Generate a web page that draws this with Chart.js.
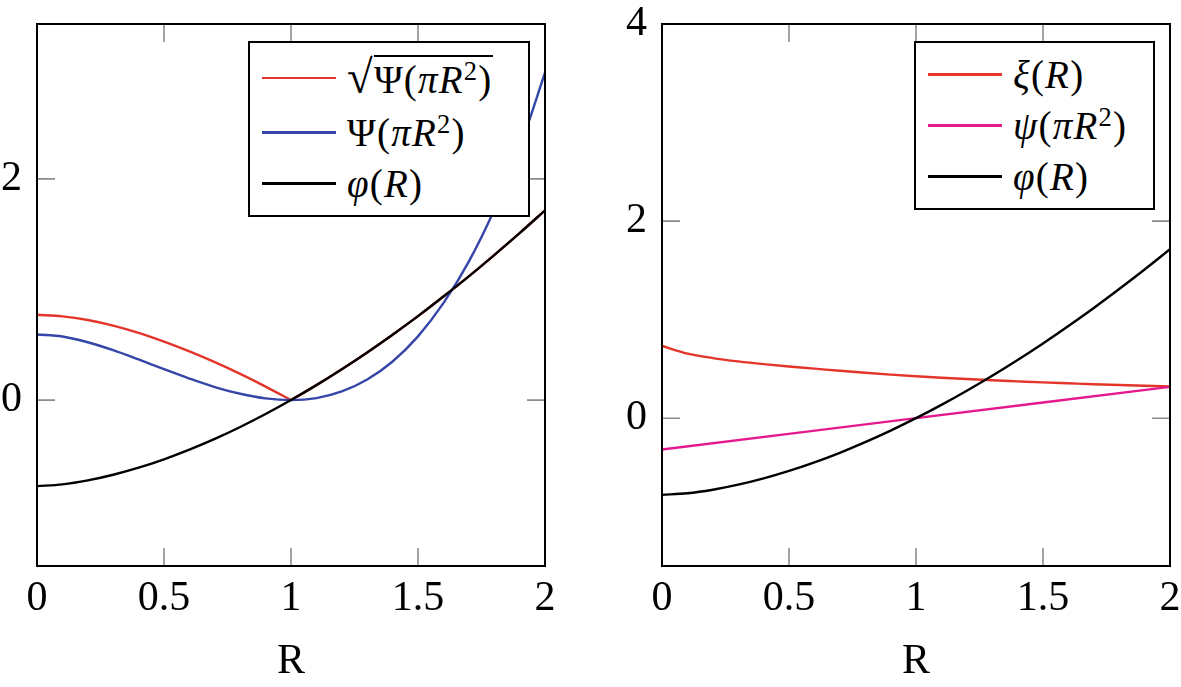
<!DOCTYPE html>
<html>
<head>
<meta charset="utf-8">
<title>R</title>
<script src="https://cdn.jsdelivr.net/npm/chart.js@4.4.1/dist/chart.umd.min.js"></script>
<style>
  body { margin: 0; background: #fff; }
  #page { position: relative; width: 1181px; height: 687px; overflow: hidden; }
  .panel { position: absolute; top: 0; height: 687px; }
  .legend { position: absolute; box-sizing: border-box; border: 2px solid #000; background: #fff;
            font-family: "Liberation Serif", serif; font-size: 39px; letter-spacing: 1.2px; color: #000; }
  .legend .row { position: absolute; left: 0; right: 0; height: 52px; display: flex; align-items: center; white-space: nowrap; }
  .legend .swatch { display: inline-block; width: 74px; height: 2.5px; margin-left: 12px; margin-right: 11px; }
  .legend sup { font-size: 0.68em; vertical-align: 0.5em; line-height: 0; }
  .legend .rad { font-size: 1.2em; line-height: 1; }
  .legend .radicand { border-top: 2px solid #000; line-height: 1.05; padding-top: 1px; }
</style>
</head>
<body>
<div id="page">
  <div class="panel" style="left:0;width:590px"><canvas id="leftChart"></canvas></div>
  <div class="panel" style="left:600px;width:581px"><canvas id="rightChart"></canvas></div>
</div>
<script>
// ---------------- data ----------------
const R_GRID = [0, 0.1, 0.2, 0.3, 0.4, 0.5, 0.6, 0.7, 0.8, 0.9, 1, 1.1, 1.2, 1.3, 1.4, 1.5, 1.6, 1.7, 1.8, 1.9, 2];
const R_LOW = [0, 0.1, 0.2, 0.3, 0.4, 0.5, 0.6, 0.7, 0.8, 0.9, 1];
const R_HIGH = [1, 1.1, 1.2, 1.3, 1.4, 1.5, 1.6, 1.7, 1.8, 1.9, 2];
const R_LINE = [0, 1, 2];

const X_TICKS = [0, 0.5, 1, 1.5, 2];
const LEFT_Y_TICKS = [0, 2];
const RIGHT_Y_TICKS = [0, 2, 4];

// left panel (the red one has a corner at R = 1, so it comes in two pieces)
const sqrtPsiBelow = [0.771, 0.757, 0.724, 0.673, 0.607, 0.528, 0.44, 0.343, 0.237, 0.122, 0];
const sqrtPsiAbove = [0, 0.135, 0.279, 0.431, 0.591, 0.759, 0.936, 1.119, 1.311, 1.509, 1.715];
const psiBig = [0.593, 0.575, 0.523, 0.451, 0.367, 0.279, 0.195, 0.118, 0.057, 0.015, 0, 0.018, 0.078, 0.186, 0.349, 0.576, 0.876, 1.252, 1.719, 2.277, 2.96];
const phi = [-0.778, -0.762, -0.726, -0.675, -0.611, -0.535, -0.448, -0.351, -0.243, -0.126, 0, 0.135, 0.279, 0.431, 0.591, 0.759, 0.936, 1.119, 1.311, 1.509, 1.715];

// right panel
const xi = [0.733, 0.655, 0.61, 0.576, 0.548, 0.524, 0.503, 0.481, 0.461, 0.442, 0.425, 0.41, 0.397, 0.385, 0.374, 0.363, 0.354, 0.345, 0.337, 0.329, 0.321];
const psiSmall = [-0.318, 0, 0.318];

const LEFT_NAMES = [
    '<span class="rad">√</span><span class="radicand">Ψ(<i>π</i><i>R</i><sup>2</sup>)</span>',
    'Ψ(<i>π</i><i>R</i><sup>2</sup>)',
    '<i>φ</i>(<i>R</i>)'
];
const RIGHT_NAMES = [
    '<i>ξ</i>(<i>R</i>)',
    '<i>ψ</i>(<i>π</i><i>R</i><sup>2</sup>)',
    '<i>φ</i>(<i>R</i>)'
];

const RED = '#e3352a';
const BLUE = '#3545a8';
const MAGENTA = '#e5198e';
const BLACK = '#000000';

const SERIF = '"Liberation Serif", serif';
const TICK_LEN = 18;

const points = (xs, ys) => xs.map((x, i) => ({ x: x, y: ys[i] }));

function line(label, data, color, order) {
    return {
        label: label,
        data: data,
        borderColor: color,
        backgroundColor: color,
        borderWidth: 2.4,
        pointRadius: 0,
        fill: false,
        spanGaps: false,
        order: order,
        cubicInterpolationMode: 'monotone'
    };
}

// ================= inner tick marks + frame =================
const frameTicks = {
    id: 'frameTicks',
    beforeDatasetsDraw(chart) {
        const { ctx, chartArea: a, scales } = chart;
        ctx.save();
        ctx.strokeStyle = '#8c8c8c';
        ctx.lineWidth = 1.6;
        ctx.beginPath();
        scales.x.ticks.forEach(t => {
            if (t.value === scales.x.min || t.value === scales.x.max) return;
            const px = scales.x.getPixelForValue(t.value);
            ctx.moveTo(px, a.bottom); ctx.lineTo(px, a.bottom - TICK_LEN);
            ctx.moveTo(px, a.top); ctx.lineTo(px, a.top + TICK_LEN);
        });
        scales.y.ticks.forEach(t => {
            if (t.value === scales.y.min || t.value === scales.y.max) return;
            const py = scales.y.getPixelForValue(t.value);
            ctx.moveTo(a.left, py); ctx.lineTo(a.left + TICK_LEN, py);
            ctx.moveTo(a.right, py); ctx.lineTo(a.right - TICK_LEN, py);
        });
        ctx.stroke();
        ctx.restore();
    },
    afterDatasetsDraw(chart) {
        const { ctx, chartArea: a } = chart;
        ctx.save();
        ctx.strokeStyle = '#000';
        ctx.lineWidth = 2;
        ctx.strokeRect(a.left, a.top, a.right - a.left, a.bottom - a.top);
        ctx.restore();
    }
};

// ================= legend as html, boxed =================
const htmlLegend = {
    id: 'htmlLegend',
    afterUpdate(chart, args, opts) {
        const host = chart.canvas.parentNode;
        let box = host.querySelector('.legend');
        if (!box) {
            box = document.createElement('div');
            box.className = 'legend';
            host.appendChild(box);
        }
        box.innerHTML = '';
        const a = chart.chartArea;
        box.style.width = opts.width + 'px';
        box.style.height = opts.height + 'px';
        box.style.left = (a.right - opts.inset - opts.width) + 'px';
        box.style.top = (a.top + opts.drop) + 'px';
        chart.data.datasets.forEach((ds, i) => {
            const row = document.createElement('div');
            row.className = 'row';
            row.style.top = (opts.rowCenters[i] - 28) + 'px';
            const sw = document.createElement('span');
            sw.className = 'swatch';
            sw.style.background = ds.borderColor;
            const txt = document.createElement('span');
            txt.innerHTML = opts.names[i];
            row.appendChild(sw);
            row.appendChild(txt);
            box.appendChild(row);
        });
    }
};

function makeOptions(yMin, yMax, yTicks, yWidth, padRight, legend) {
    return {
        responsive: true,
        maintainAspectRatio: false,
        animation: false,
        layout: { padding: { top: 24, right: padRight, bottom: 0, left: 0 } },
        plugins: {
            legend: { display: false },
            tooltip: { enabled: false },
            htmlLegend: legend
        },
        scales: {
            x: {
                type: 'linear',
                min: 0,
                max: 2,
                grid: { display: false, drawTicks: false },
                border: { display: false },
                afterBuildTicks: s => { s.ticks = X_TICKS.map(v => ({ value: v })); },
                afterFit: s => { s.height = 121; s.paddingLeft = 0; s.paddingRight = 0; },
                ticks: {
                    color: '#000',
                    padding: 8,
                    maxRotation: 0,
                    font: { family: SERIF, size: 42 },
                    callback: v => String(v)
                },
                title: {
                    display: true,
                    text: 'R',
                    color: '#000',
                    padding: { top: 0, bottom: 0 },
                    font: { family: SERIF, size: 42 }
                }
            },
            y: {
                type: 'linear',
                min: yMin,
                max: yMax,
                grid: { display: false, drawTicks: false },
                border: { display: false },
                afterBuildTicks: s => { s.ticks = yTicks.map(v => ({ value: v })); },
                afterFit: s => { s.width = yWidth; s.paddingTop = 0; s.paddingBottom = 0; },
                ticks: {
                    color: '#000',
                    padding: 15,
                    font: { family: SERIF, size: 42 },
                    callback: v => String(v)
                }
            }
        }
    };
}

// ================= left chart =================
new Chart(document.getElementById('leftChart'), {
    type: 'line',
    data: {
        datasets: [
            line('√Ψ(πR²)', points(R_LOW, sqrtPsiBelow).concat([{ x: 1, y: null }], points(R_HIGH, sqrtPsiAbove)), RED, 2),
            line('Ψ(πR²)', points(R_GRID, psiBig), BLUE, 1),
            line('φ(R)', points(R_GRID, phi), BLACK, 0)
        ]
    },
    options: makeOptions(-1.5, 3.4, LEFT_Y_TICKS, 37, 45, {
        names: LEFT_NAMES, width: 282, height: 176, inset: 15, drop: 17,
        rowCenters: [37, 91.6, 142.3]
    }),
    plugins: [frameTicks, htmlLegend]
});

// ================= right chart =================
new Chart(document.getElementById('rightChart'), {
    type: 'line',
    data: {
        datasets: [
            line('ξ(R)', points(R_GRID, xi), RED, 2),
            line('ψ(πR²)', points(R_LINE, psiSmall), MAGENTA, 1),
            line('φ(R)', points(R_GRID, phi), BLACK, 0)
        ]
    },
    options: makeOptions(-1.5, 4, RIGHT_Y_TICKS, 62, 11, {
        names: RIGHT_NAMES, width: 241, height: 169, inset: 15, drop: 17,
        rowCenters: [33.3, 84.6, 135.6]
    }),
    plugins: [frameTicks, htmlLegend]
});
</script>
</body>
</html>
